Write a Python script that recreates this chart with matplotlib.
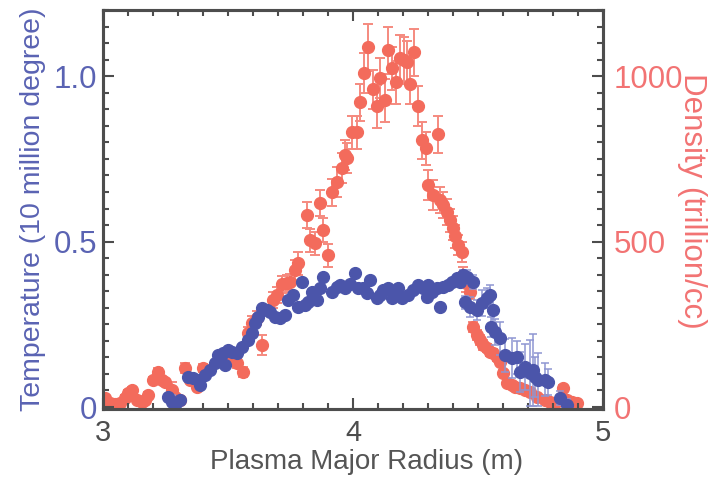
import matplotlib
matplotlib.use('Agg')
import matplotlib.pyplot as plt
from matplotlib.ticker import MultipleLocator

plt.rcParams['font.family'] = ['Liberation Sans', 'DejaVu Sans']

# electron density profile (trillion/cc) vs major radius (m)
dens_r = [3.008, 3.028, 3.048, 3.068, 3.088, 3.100, 3.116, 3.136, 3.156, 3.168,
          3.180, 3.200, 3.220, 3.236, 3.248, 3.276, 3.288, 3.308, 3.328, 3.348,
          3.376, 3.400, 3.508, 3.536, 3.560, 3.580, 3.596, 3.616, 3.636, 3.680,
          3.696, 3.716, 3.736, 3.748, 3.768, 3.780, 3.816, 3.828, 3.848, 3.868,
          3.880, 3.900, 3.916, 3.936, 3.956, 3.968, 3.976, 3.996, 4.016, 4.028,
          4.044, 4.060, 4.080, 4.096, 4.108, 4.128, 4.140, 4.156, 4.172, 4.188,
          4.204, 4.216, 4.228, 4.244, 4.260, 4.276, 4.292, 4.300, 4.320, 4.340,
          4.348, 4.360, 4.376, 4.388, 4.400, 4.408, 4.420, 4.436, 4.440, 4.452,
          4.468, 4.480, 4.496, 4.508, 4.520, 4.536, 4.548, 4.560, 4.576, 4.588,
          4.600, 4.616, 4.636, 4.648, 4.668, 4.688, 4.708, 4.736, 4.768, 4.788,
          4.808, 4.840, 4.856, 4.876, 4.896]
dens = [27, 12, 9, 12, 27, 42, 51, 21, 15, 21,
        36, 82, 106, 82, 76, 51, 30, 21, 118, 82,
        60, 118, 142, 133, 106, 223, 254, 269, 187, 323,
        338, 371, 374, 378, 414, 435, 580, 504, 495, 616,
        535, 459, 649, 680, 722, 761, 752, 831, 831, 921,
        1009, 1087, 960, 909, 994, 927, 1078, 1024, 982, 1054,
        1048, 1042, 975, 1072, 909, 806, 782, 670, 640, 824,
        625, 610, 589, 565, 541, 516, 489, 468, 399, 374,
        347, 242, 217, 202, 187, 178, 166, 163, 151, 136,
        103, 72, 66, 60, 57, 51, 45, 30, 21, 15,
        12, 57, 21, 15, 12]
dens_err = [8, 6, 6, 6, 8, 8, 8, 6, 6, 6,
            8, 10, 12, 10, 10, 25, 10, 8, 15, 10,
            10, 12, 15, 15, 15, 20, 20, 20, 30, 25,
            25, 25, 25, 25, 30, 35, 40, 35, 35, 40,
            35, 35, 40, 45, 45, 45, 45, 50, 50, 55,
            60, 70, 60, 65, 60, 65, 70, 65, 65, 70,
            70, 65, 60, 70, 60, 55, 50, 45, 45, 55,
            40, 40, 40, 35, 35, 35, 30, 30, 25, 25,
            20, 15, 15, 15, 15, 12, 12, 12, 12, 10,
            10, 8, 8, 8, 8, 8, 8, 6, 6, 6,
            6, 10, 6, 6, 6]

# electron temperature profile (10 million degree) vs major radius (m)
temp_r = [3.260, 3.276, 3.288, 3.308, 3.340, 3.360, 3.380, 3.388, 3.408, 3.428,
          3.448, 3.460, 3.468, 3.480, 3.488, 3.500, 3.516, 3.536, 3.556, 3.580,
          3.596, 3.608, 3.620, 3.636, 3.656, 3.668, 3.688, 3.708, 3.728, 3.740,
          3.760, 3.780, 3.796, 3.808, 3.820, 3.836, 3.856, 3.868, 3.880, 3.916,
          3.936, 3.948, 3.968, 3.988, 4.008, 4.020, 4.040, 4.056, 4.068, 4.096,
          4.108, 4.120, 4.140, 4.156, 4.168, 4.180, 4.196, 4.220, 4.240, 4.260,
          4.280, 4.296, 4.300, 4.316, 4.336, 4.348, 4.360, 4.380, 4.396, 4.416,
          4.428, 4.440, 4.448, 4.456, 4.468, 4.480, 4.496, 4.516, 4.536, 4.548,
          4.552, 4.560, 4.568, 4.588, 4.608, 4.636, 4.656, 4.668, 4.688, 4.708,
          4.720, 4.728, 4.740, 4.768, 4.780, 4.828, 4.856]
temp = [0.030, 0.015, 0.005, 0.021, 0.091, 0.088, 0.082, 0.066, 0.097, 0.112,
        0.133, 0.157, 0.151, 0.163, 0.127, 0.172, 0.166, 0.163, 0.181, 0.202,
        0.224, 0.254, 0.272, 0.299, 0.293, 0.287, 0.272, 0.269, 0.278, 0.323,
        0.338, 0.302, 0.378, 0.308, 0.317, 0.347, 0.323, 0.360, 0.393, 0.347,
        0.363, 0.369, 0.360, 0.372, 0.405, 0.360, 0.360, 0.344, 0.384, 0.329,
        0.338, 0.353, 0.360, 0.329, 0.338, 0.360, 0.329, 0.338, 0.353, 0.369,
        0.360, 0.332, 0.369, 0.347, 0.360, 0.302, 0.363, 0.369, 0.378, 0.390,
        0.378, 0.399, 0.317, 0.393, 0.302, 0.378, 0.293, 0.314, 0.329, 0.338,
        0.242, 0.293, 0.227, 0.208, 0.157, 0.148, 0.151, 0.106, 0.121, 0.103,
        0.112, 0.091, 0.082, 0.082, 0.076, 0.027, 0.005]
temp_err = [0.010, 0.020, 0.010, 0.010, 0.008, 0.008, 0.008, 0.008, 0.008, 0.008,
            0.008, 0.008, 0.008, 0.010, 0.010, 0.010, 0.010, 0.010, 0.010, 0.010,
            0.010, 0.010, 0.010, 0.010, 0.010, 0.010, 0.010, 0.010, 0.010, 0.010,
            0.010, 0.010, 0.010, 0.010, 0.010, 0.010, 0.010, 0.010, 0.010, 0.008,
            0.008, 0.008, 0.008, 0.008, 0.008, 0.008, 0.008, 0.008, 0.008, 0.008,
            0.008, 0.008, 0.008, 0.008, 0.008, 0.008, 0.008, 0.008, 0.008, 0.008,
            0.008, 0.008, 0.008, 0.008, 0.008, 0.008, 0.008, 0.008, 0.010, 0.010,
            0.010, 0.015, 0.020, 0.020, 0.030, 0.020, 0.030, 0.040, 0.030, 0.030,
            0.030, 0.040, 0.040, 0.050, 0.050, 0.060, 0.050, 0.060, 0.070, 0.100,
            0.110, 0.060, 0.080, 0.050, 0.040, 0.020, 0.020]

blue = '#4b55aa'
blue_light = '#8e96d2'
red = '#f36b5c'
red_light = '#f58a7f'
axis_gray = '#4d4d4d'

fig = plt.figure(figsize=(7.11, 4.79), dpi=100)
ax = fig.add_axes([103 / 711, 1 - 409 / 479, 500 / 711, 399 / 479])
ax2 = ax.twinx()

# density on the right axis, temperature on the left (drawn on top)
ax2.set_facecolor('#fdfcea')
ax.set_zorder(ax2.get_zorder() + 1)
ax.patch.set_visible(False)

ax2.errorbar(dens_r, dens, yerr=dens_err, fmt='o', ms=8.5, color=red,
             mec=red, ecolor=red_light, elinewidth=1.4, capsize=3.5,
             capthick=1.4)
ax.errorbar(temp_r, temp, yerr=temp_err, fmt='o', ms=8.5, color=blue,
            mec=blue, ecolor=blue_light, elinewidth=1.1, capsize=3,
            capthick=1.1)

ax.set_xlim(3, 5)
ax.set_ylim(-0.006, 1.2)
ax2.set_ylim(-6, 1200)

ax.xaxis.set_major_locator(MultipleLocator(1))
ax.xaxis.set_minor_locator(MultipleLocator(0.1))
ax.yaxis.set_major_locator(MultipleLocator(0.5))
ax.yaxis.set_minor_locator(MultipleLocator(0.05))
ax2.yaxis.set_major_locator(MultipleLocator(500))
ax2.yaxis.set_minor_locator(MultipleLocator(50))

ax.set_xticks([3, 4, 5])
ax.set_xticklabels(['3', '4', '5'])
ax.set_yticks([0, 0.5, 1.0])
ax.set_yticklabels(['0', '0.5', '1.0'])

ax.tick_params(axis='x', which='both', direction='in', top=True,
               colors=axis_gray, labelsize=21, pad=7, width=1.5)
ax.tick_params(axis='y', which='both', direction='in', right=False,
               color=axis_gray, labelcolor='#5a63b3', labelsize=22.5, pad=4,
               width=1.5)
ax2.tick_params(axis='y', which='both', direction='in', color=axis_gray,
                labelcolor='#f27373', labelsize=22.5, pad=8, width=1.5)
for a in (ax, ax2):
    a.tick_params(which='major', length=8)
    a.tick_params(which='minor', length=4)
    for s in a.spines.values():
        s.set_color(axis_gray)
        s.set_linewidth(2.2)

fig.text(367 / 711, 1 - 462 / 479, 'Plasma Major Radius (m)', ha='center',
         va='center', fontsize=20, color='#555555')
fig.text(33 / 711, 1 - 209 / 479, 'Temperature (10 million degree)',
         rotation=90, ha='center', va='center', fontsize=20.5, color='#5a63b3')
fig.text(692 / 711, 1 - 201 / 479, 'Density (trillion/cc)', rotation=270,
         ha='center', va='center', fontsize=22.5, color='#f27373')

fig.savefig('out.png', dpi=100, facecolor='white')
